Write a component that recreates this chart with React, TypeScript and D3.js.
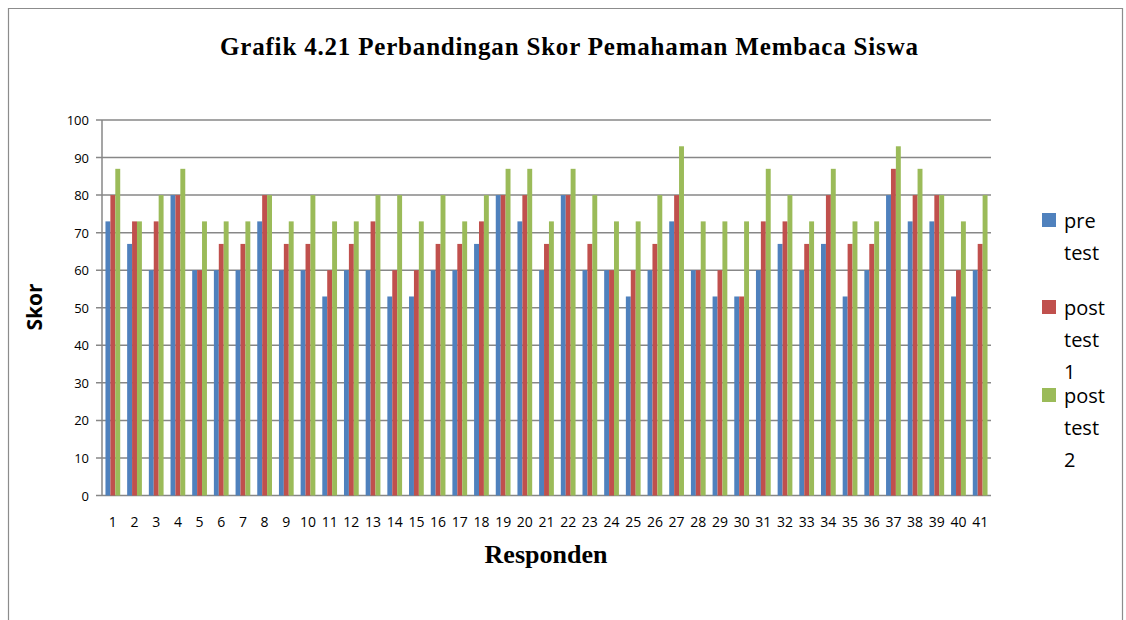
import React, { useEffect, useRef } from 'react';
import * as d3 from 'd3';

const responden = d3.range(1, 42).map(String);
const preTest = [73, 67, 60, 80, 60, 60, 60, 73, 60, 60, 53, 60, 60, 53, 53, 60, 60, 67, 80, 73, 60, 80, 60, 60, 53, 60, 73, 60, 53, 53, 60, 67, 60, 67, 53, 60, 80, 73, 73, 53, 60];
const postTest1 = [80, 73, 73, 80, 60, 67, 67, 80, 67, 67, 60, 67, 73, 60, 60, 67, 67, 73, 80, 80, 67, 80, 67, 60, 60, 67, 80, 60, 60, 53, 73, 73, 67, 80, 67, 67, 87, 80, 80, 60, 67];
const postTest2 = [87, 73, 80, 87, 73, 73, 73, 80, 73, 80, 73, 73, 80, 80, 73, 80, 73, 80, 87, 87, 73, 87, 80, 73, 73, 80, 93, 73, 73, 73, 87, 80, 73, 87, 73, 73, 93, 87, 80, 73, 80];
const seriesNames = [['pre', 'test'], ['post', 'test', '1'], ['post', 'test', '2']];
const colors = ['#4F81BD', '#C0504D', '#9BBB59'];
const yTicks = d3.range(0, 101, 10);

const App = () => {
  const container = useRef(null);

  useEffect(() => {
    const svg = d3.select(container.current);
    svg.selectAll('*').remove();

    const margins = { l: 102, t: 120, r: 991, b: 495.5 };
    const series = [preTest, postTest1, postTest2];
    const sans = '"Open Sans", "Liberation Sans", sans-serif';
    const serif = '"Liberation Serif", "Times New Roman", serif';

    // outer frame
    svg.append('path')
      .attr('d', 'M8.5,640 L8.5,8.5 L1122.5,8.5 L1122.5,640')
      .attr('fill', 'none')
      .attr('stroke', '#8c8c8c')
      .attr('stroke-width', 1.2);

    svg.append('text')
      .attr('x', 569)
      .attr('y', 55)
      .attr('text-anchor', 'middle')
      .attr('textLength', 698)
      .attr('lengthAdjust', 'spacing')
      .style('font-family', serif)
      .style('font-weight', 'bold')
      .style('font-size', '25px')
      .text('Grafik 4.21 Perbandingan Skor Pemahaman Membaca Siswa');

    const xScale = d3.scaleBand().domain(responden).range([margins.l, margins.r]).paddingInner(0.32).paddingOuter(0.16);
    const xSub = d3.scaleBand().domain(['0', '1', '2']).range([0, xScale.bandwidth()]);
    const yScale = d3.scaleLinear().domain([0, 100]).range([margins.b, margins.t]);

    // gridlines
    svg.append('g')
      .selectAll('line')
      .data(yTicks)
      .join('line')
      .attr('x1', margins.l - 6)
      .attr('x2', margins.r)
      .attr('y1', d => yScale(d))
      .attr('y2', d => yScale(d))
      .attr('stroke', '#878787')
      .attr('stroke-width', 1.5);

    svg.append('line')
      .attr('x1', margins.l)
      .attr('x2', margins.l)
      .attr('y1', margins.t)
      .attr('y2', margins.b)
      .attr('stroke', '#878787')
      .attr('stroke-width', 1.5);

    svg.append('g')
      .selectAll('text')
      .data(yTicks)
      .join('text')
      .attr('x', 89)
      .attr('y', d => yScale(d) + 5)
      .attr('text-anchor', 'end')
      .style('font-family', sans)
      .style('font-size', '13px')
      .text(d => d);

    const groups = svg.append('g')
      .selectAll('g')
      .data(responden)
      .join('g')
      .attr('transform', d => `translate(${xScale(d)},0)`);

    groups.selectAll('rect')
      .data((d, i) => series.map((s, k) => ({ k, v: s[i] })))
      .join('rect')
      .attr('x', d => xSub(String(d.k)))
      .attr('width', xSub.bandwidth())
      .attr('y', d => yScale(d.v))
      .attr('height', d => yScale(0) - yScale(d.v))
      .attr('fill', d => colors[d.k]);

    svg.append('g')
      .selectAll('text')
      .data(responden)
      .join('text')
      .attr('x', d => xScale(d) + xScale.bandwidth() / 2)
      .attr('y', 527)
      .attr('text-anchor', 'middle')
      .style('font-family', sans)
      .style('font-size', '14px')
      .text(d => d);

    svg.append('text')
      .attr('x', 546)
      .attr('y', 563)
      .attr('text-anchor', 'middle')
      .style('font-family', serif)
      .style('font-weight', 'bold')
      .style('font-size', '26px')
      .text('Responden');

    svg.append('text')
      .attr('transform', 'translate(42,307) rotate(-90)')
      .attr('text-anchor', 'middle')
      .style('font-family', sans)
      .style('font-weight', 'bold')
      .style('font-size', '21px')
      .text('Skor');

    // legend
    const legendY = [213, 300, 388];
    const legend = svg.append('g')
      .selectAll('g')
      .data(seriesNames)
      .join('g')
      .attr('transform', (d, i) => `translate(1042,${legendY[i]})`);

    legend.append('rect')
      .attr('width', 14)
      .attr('height', 14)
      .attr('fill', (d, i) => colors[i]);

    legend.each(function (d) {
      d3.select(this).selectAll('text')
        .data(d)
        .join('text')
        .attr('x', 22)
        .attr('y', (t, j) => 15 + j * 32)
        .style('font-family', sans)
        .style('font-size', '20px')
        .text(t => t);
    });
  }, []);

  return (
    <svg
      ref={container}
      width={1126}
      height={620}
      style={{ position: 'absolute', left: 0, top: 0, background: '#fff' }}
    />
  );
};

export default App;
